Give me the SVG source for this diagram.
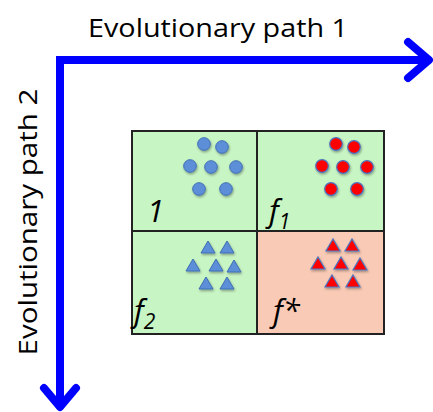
<svg xmlns="http://www.w3.org/2000/svg" width="433" height="412" viewBox="0 0 433 412">
<style>
.ax{fill:none;stroke:#0000ff;stroke-width:8;stroke-linecap:round;stroke-linejoin:miter}
.ah{fill:none;stroke:#0000ff;stroke-width:8;stroke-linecap:round;stroke-linejoin:round}
.lab{font-family:"Open Sans","Liberation Sans",sans-serif;font-size:25px;fill:#000}
.cell{stroke:#222;stroke-width:2}
.g{fill:#c8f5c4}
.p{fill:#f9cab5}
.it{font-family:"Open Sans","Liberation Sans",sans-serif;font-style:italic;font-size:31px;fill:#000}
.sub{font-size:21px}
.bc{fill:#5b8fd8;stroke:#3f6fb5;stroke-width:1}
.rc{fill:#ff0000;stroke:#4a74c0;stroke-width:1.2}
</style>
<defs>
<filter id="sh" x="-50%" y="-50%" width="200%" height="200%">
<feDropShadow dx="0.8" dy="1.5" stdDeviation="1" flood-color="#000" flood-opacity="0.35"/>
</filter>
<circle id="c" r="6.3"/>
<polygon id="t" points="0,-6 7,6 -7,6"/>
</defs>
<g id="connectors">
<path class="ax" d="M60,406 V60 H428"/>
<path class="ah" d="M408,42 L429,60 L408,78"/>
<path class="ah" d="M44,388 L60,407 L76,388"/>
</g>
<text class="lab" x="218" y="37" text-anchor="middle" textLength="260" lengthAdjust="spacingAndGlyphs">Evolutionary path 1</text>
<text class="lab" transform="translate(37,222) rotate(-90)" text-anchor="middle" textLength="267" lengthAdjust="spacingAndGlyphs">Evolutionary path 2</text>
<g id="cell-1">
<rect class="cell g" x="132" y="131" width="125" height="100"/>
<g class="bc" filter="url(#sh)">
<use href="#c" x="204" y="144"/><use href="#c" x="222" y="147"/>
<use href="#c" x="190" y="166"/><use href="#c" x="211" y="167"/><use href="#c" x="236" y="167"/>
<use href="#c" x="199" y="189"/><use href="#c" x="226" y="189"/>
</g>
<text class="it" x="147" y="222">1</text>
</g>
<g id="cell-f1">
<rect class="cell g" x="257" y="131" width="127" height="100"/>
<g class="rc" filter="url(#sh)">
<use href="#c" x="336" y="144"/><use href="#c" x="354" y="147"/>
<use href="#c" x="322" y="166"/><use href="#c" x="343" y="167"/><use href="#c" x="367" y="167"/>
<use href="#c" x="331" y="189"/><use href="#c" x="357" y="189"/>
</g>
<text class="it" x="269" y="222">f<tspan class="sub" dy="7">1</tspan></text>
</g>
<g id="cell-f2">
<rect class="cell g" x="132" y="231" width="125" height="103"/>
<g class="bc" filter="url(#sh)">
<use href="#t" x="208" y="247"/><use href="#t" x="227" y="247"/>
<use href="#t" x="193" y="265"/><use href="#t" x="216" y="265"/><use href="#t" x="234" y="266"/>
<use href="#t" x="206" y="283"/><use href="#t" x="227" y="283"/>
</g>
<text class="it" x="134" y="322">f<tspan class="sub" dy="7">2</tspan></text>
</g>
<g id="cell-fstar">
<rect class="cell p" x="257" y="231" width="127" height="103"/>
<g class="rc" filter="url(#sh)">
<use href="#t" x="333" y="245"/><use href="#t" x="352" y="245"/>
<use href="#t" x="318" y="263"/><use href="#t" x="341" y="263"/><use href="#t" x="360" y="264"/>
<use href="#t" x="332" y="281"/><use href="#t" x="353" y="281"/>
</g>
<text class="it" x="273" y="322">f*</text>
</g>
</svg>
